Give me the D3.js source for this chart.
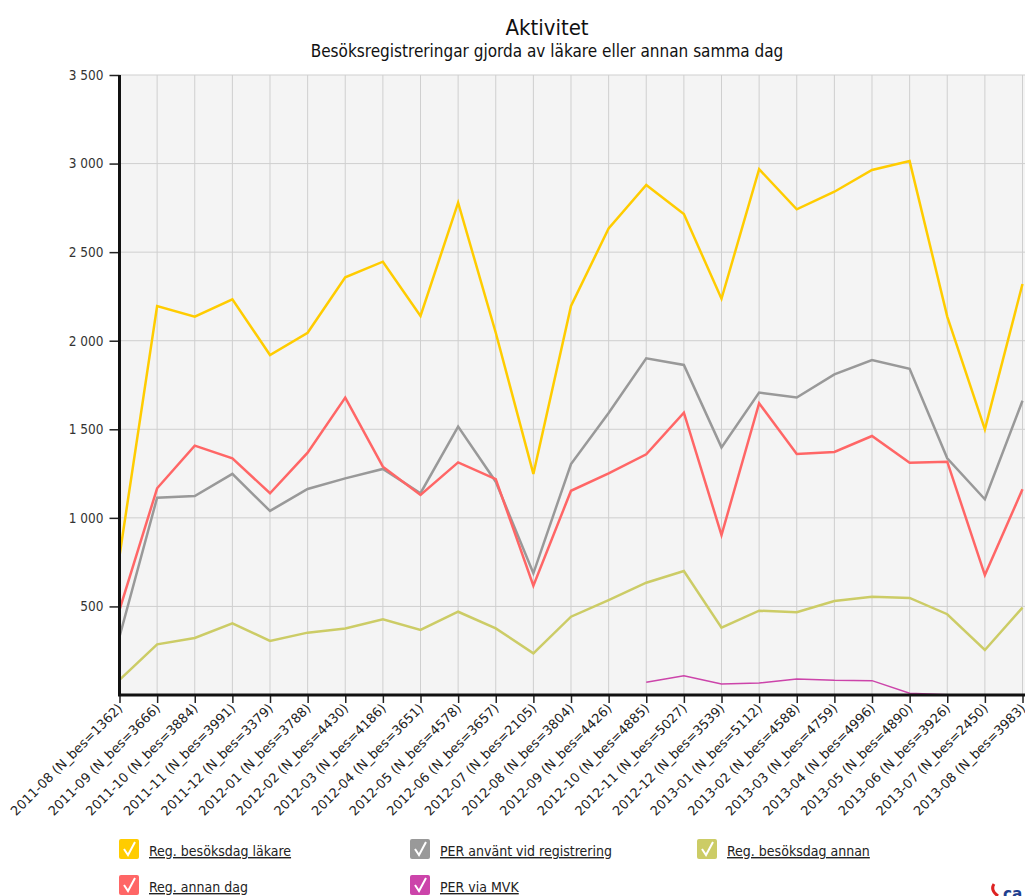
<!DOCTYPE html>
<html>
<head>
<meta charset="utf-8">
<script src="https://cdn.jsdelivr.net/npm/d3@7"></script>
<style>
  body { margin: 0; background: #fff; }
  svg { display: block; font-family: "DejaVu Sans Condensed", "DejaVu Sans", sans-serif; }
</style>
</head>
<body>
<div id="chart"></div>
<script>
'use strict'

// months shown on the x axis, with number of visits
const months = ["2011-08","2011-09","2011-10","2011-11","2011-12","2012-01","2012-02","2012-03",
  "2012-04","2012-05","2012-06","2012-07","2012-08","2012-09","2012-10","2012-11","2012-12",
  "2013-01","2013-02","2013-03","2013-04","2013-05","2013-06","2013-07","2013-08"]
const nBes = [1362,3666,3884,3991,3379,3788,4430,4186,3651,4578,3657,2105,3804,4426,4885,
  5027,3539,5112,4588,4759,4996,4890,3926,2450,3983]

// series values
const regBesoksdagLakare = [785,2196,2136,2234,1919,2045,2358,2446,2140,2779,2045,1248,2196,
  2634,2879,2715,2237,2968,2742,2841,2964,3014,2136,1500,2320]
const perAnvant = [329,1114,1123,1248,1039,1163,1223,1276,1139,1515,1204,687,1304,1592,1901,
  1863,1398,1707,1679,1810,1891,1842,1336,1105,1661]
const regBesoksdagAnnan = [85,286,322,405,305,352,376,427,367,470,376,235,442,536,634,700,380,
  476,467,531,555,548,456,254,493]
const regAnnanDag = [480,1167,1408,1336,1139,1368,1679,1289,1129,1313,1219,617,1153,1251,1359,
  1594,903,1647,1360,1372,1462,1311,1317,677,1161]
const perViaMvk = [null,null,null,null,null,null,null,null,null,null,null,null,null,null,72,109,
  62,68,90,83,81,10,2,1,null]

const yTicks = [500,1000,1500,2000,2500,3000,3500]

const series = [
  {name: "Reg. besöksdag läkare", color: "#ffcc00", width: 2.5, values: regBesoksdagLakare},
  {name: "PER använt vid registrering", color: "#999999", width: 2.5, values: perAnvant},
  {name: "Reg. besöksdag annan", color: "#cccc66", width: 2.5, values: regBesoksdagAnnan},
  {name: "Reg. annan dag", color: "#ff6666", width: 2.5, values: regAnnanDag},
  {name: "PER via MVK", color: "#cc44aa", width: 1.5, values: perViaMvk}
]

const width = 1025
const height = 896
const x0 = 119.5
const x1 = 1022.5
const yTop = 75
const yBottom = 695

let svg = d3.select("#chart").append("svg")
  .attr("width", width)
  .attr("height", height)

// titles
svg.append("text")
  .attr("x", 547).attr("y", 35)
  .attr("text-anchor", "middle")
  .style("font-size", "22px")
  .style("fill", "#111")
  .text("Aktivitet")
svg.append("text")
  .attr("x", 547).attr("y", 57)
  .attr("text-anchor", "middle")
  .style("font-size", "17px")
  .style("fill", "#111")
  .text("Besöksregistreringar gjorda av läkare eller annan samma dag")

let xscale = d3.scalePoint()
  .domain(months)
  .range([x0, x1])

let yscale = d3.scaleLinear()
  .domain([0, 3500])
  .range([yBottom, yTop])

// plot background, runs off the right edge
svg.append("rect")
  .attr("x", x0).attr("y", yTop)
  .attr("width", width - x0).attr("height", yBottom - yTop)
  .style("fill", "#f4f4f4")

// grid
svg.append("g").selectAll("line")
  .data(months.slice(1))
  .enter().append("line")
  .attr("x1", d => xscale(d)).attr("x2", d => xscale(d))
  .attr("y1", yTop).attr("y2", yBottom)
  .style("stroke", "#cfcfcf").style("stroke-width", 1)
svg.append("g").selectAll("line")
  .data(yTicks)
  .enter().append("line")
  .attr("x1", x0).attr("x2", width)
  .attr("y1", d => yscale(d)).attr("y2", d => yscale(d))
  .style("stroke", "#cfcfcf").style("stroke-width", 1)

// lines
let line = d3.line()
  .defined(d => d != null)
  .x((d, i) => xscale(months[i]))
  .y(d => yscale(d))

svg.append("g").selectAll("path")
  .data(series)
  .enter().append("path")
  .attr("d", d => line(d.values))
  .style("fill", "none")
  .style("stroke", d => d.color)
  .style("stroke-width", d => d.width)
  .style("stroke-linejoin", "miter")

// axes
let y_axis = d3.axisLeft(yscale)
  .tickValues(yTicks)
  .tickSize(10)
  .tickPadding(6)
  .tickFormat(d => d3.format(",")(d).replace(",", " "))
let yg = svg.append("g")
  .attr("transform", "translate(" + x0 + ",0)")
  .call(y_axis)
yg.select(".domain").remove()
yg.selectAll("line").style("stroke", "#222").style("stroke-width", 1.5)
yg.selectAll("text").style("font-size", "13.5px").style("fill", "#333")
  .style("font-family", "\"DejaVu Sans Condensed\", sans-serif")

let x_axis = d3.axisBottom(xscale)
  .tickSize(8)
  .tickFormat((d, i) => d + " (N_bes=" + nBes[i] + ")")
let xg = svg.append("g")
  .attr("transform", "translate(0," + yBottom + ")")
  .call(x_axis)
xg.select(".domain").remove()
xg.selectAll("line").style("stroke", "#222").style("stroke-width", 1.5)
xg.selectAll("text")
  .style("font-size", "13px").style("fill", "#222")
  .style("font-family", "\"DejaVu Sans\", sans-serif")
  .attr("text-anchor", "end")
  .attr("dy", "0.35em")
  .attr("transform", "translate(3,8) rotate(-45)")
  .attr("y", 0).attr("x", -4)

// left and bottom axis lines
svg.append("line")
  .attr("x1", x0).attr("x2", x0).attr("y1", yTop).attr("y2", yBottom + 1)
  .style("stroke", "#111").style("stroke-width", 3)
svg.append("line")
  .attr("x1", x0 - 1.5).attr("x2", width).attr("y1", yBottom).attr("y2", yBottom)
  .style("stroke", "#111").style("stroke-width", 3)

// legend
let legendPos = [[119, 839], [410, 839], [697, 839], [119, 875], [410, 875]]
let legend = svg.selectAll(".legend")
  .data(series)
  .enter().append("g")
  .attr("class", "legend")
  .attr("transform", (d, i) => "translate(" + legendPos[i][0] + "," + legendPos[i][1] + ")")

legend.append("rect")
  .attr("width", 20).attr("height", 20)
  .attr("rx", 2)
  .style("fill", d => d.color)
legend.append("path")
  .attr("d", "M5,10 L9,16 L16,3")
  .style("fill", "none").style("stroke", "#fff").style("stroke-width", 2)
legend.append("text")
  .attr("x", 30).attr("y", 17)
  .style("font-size", "14px").style("fill", "#222")
  .style("text-decoration", "underline")
  .text(d => d.name)

// logo, cut at the corner
svg.append("text")
  .attr("x", 1003).attr("y", 900)
  .style("font-size", "17px").style("font-weight", "bold")
  .style("fill", "#1f3f8f")
  .text("ca")
svg.append("path")
  .attr("d", "M994,884 Q990,890 998,896")
  .style("fill", "none").style("stroke", "#d22").style("stroke-width", 3)
</script>
</body>
</html>
